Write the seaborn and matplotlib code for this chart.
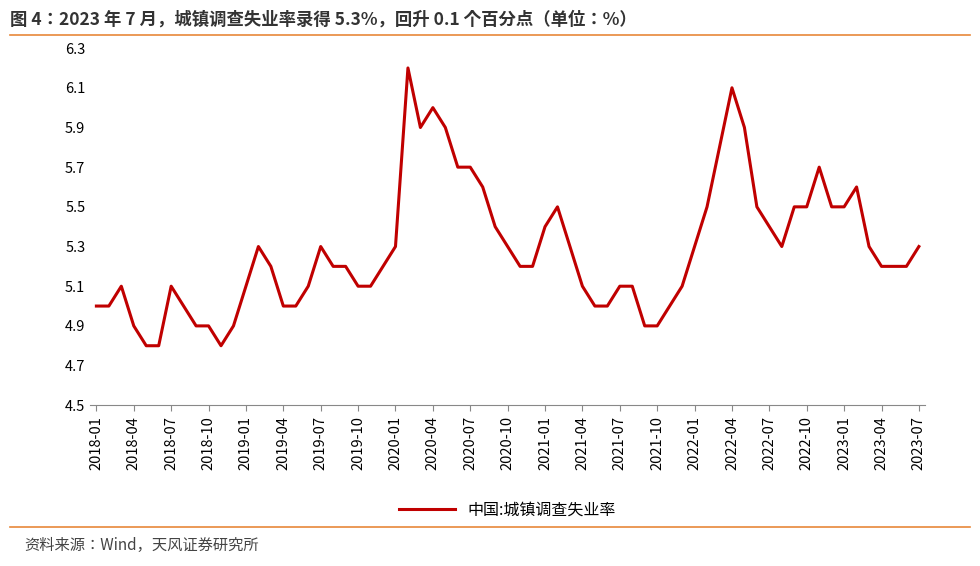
import matplotlib.pyplot as plt
import seaborn as sns
import pandas as pd

plt.rcParams['font.family'] = ['sans-serif']
plt.rcParams['font.sans-serif'] = ['Noto Sans CJK JP', 'Noto Sans CJK SC', 'Noto Sans CJK TC',
                                   'Noto Sans CJK KR', 'DejaVu Sans']

# Monthly surveyed urban unemployment rate, 2018-01 .. 2023-07
months = pd.period_range('2018-01', '2023-07', freq='M').strftime('%Y-%m').tolist()
rate = [5.0, 5.0, 5.1, 4.9, 4.8, 4.8, 5.1, 5.0, 4.9, 4.9, 4.8, 4.9,
        5.1, 5.3, 5.2, 5.0, 5.0, 5.1, 5.3, 5.2, 5.2, 5.1, 5.1, 5.2,
        5.3, 6.2, 5.9, 6.0, 5.9, 5.7, 5.7, 5.6, 5.4, 5.3, 5.2, 5.2,
        5.4, 5.5, 5.3, 5.1, 5.0, 5.0, 5.1, 5.1, 4.9, 4.9, 5.0, 5.1,
        5.3, 5.5, 5.8, 6.1, 5.9, 5.5, 5.4, 5.3, 5.5, 5.5, 5.7, 5.5,
        5.5, 5.6, 5.3, 5.2, 5.2, 5.2, 5.3]
yticks = [4.5, 4.7, 4.9, 5.1, 5.3, 5.5, 5.7, 5.9, 6.1, 6.3]

df = pd.DataFrame({'idx': range(len(months)), 'rate': rate})

fig = plt.figure(figsize=(9.8, 5.66), dpi=100)
ax = fig.add_axes([0.092, 0.284, 0.852, 0.631])
sns.lineplot(data=df, x='idx', y='rate', color='#C00000', lw=2.2, ax=ax,
             label='中国:城镇调查失业率')

ax.set_ylim(4.5, 6.3)
ax.set_yticks(yticks)
ax.set_yticklabels([f'{v:.1f}' for v in yticks], fontsize=10.5)
ax.set_xlim(-0.5, len(months) - 0.5)
ax.set_xticks(range(0, len(months), 3))
ax.set_xticklabels(months[::3], rotation=90, fontsize=10.5)
ax.set_xlabel('')
ax.set_ylabel('')
for s in ['top', 'right', 'left']:
    ax.spines[s].set_visible(False)
ax.spines['bottom'].set_color('#888888')
ax.tick_params(axis='y', length=0)
ax.tick_params(axis='x', color='#888888', length=4)

ax.legend(loc='upper center', bbox_to_anchor=(0.5, -0.23), frameon=False, fontsize=11.5,
          handlelength=3.5)

fig.text(0.01, 0.965, '图 4：2023 年 7 月，城镇调查失业率录得 5.3%，回升 0.1 个百分点（单位：%）',
         fontsize=12.5, fontweight='bold', color='#333333', va='center')
fig.add_artist(plt.Line2D([0.01, 0.99], [0.938, 0.938], color='#E8873A', lw=1.2))
fig.add_artist(plt.Line2D([0.01, 0.99], [0.069, 0.069], color='#E8873A', lw=1.2))
fig.text(0.025, 0.037, '资料来源：Wind，天风证券研究所', fontsize=11, color='#444444', va='center')

fig.savefig('out.png', dpi=100)
